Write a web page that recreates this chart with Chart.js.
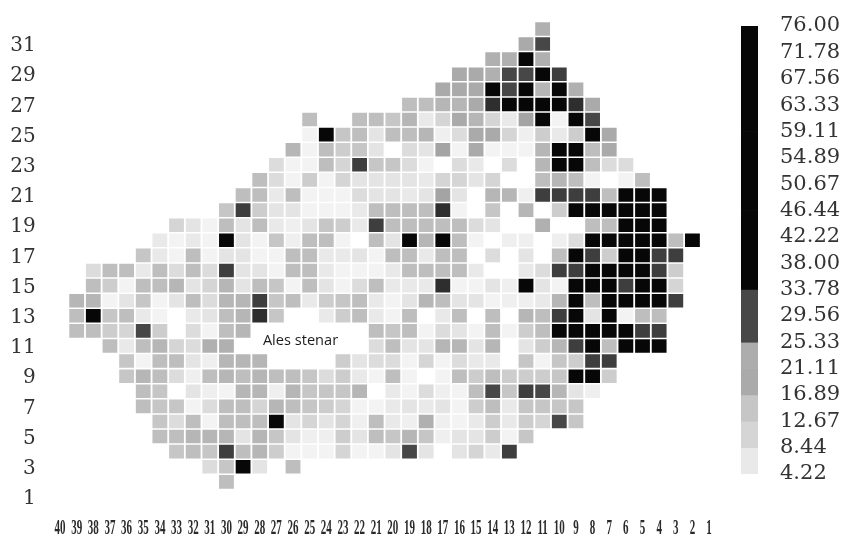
<!DOCTYPE html>
<html>
<head>
<meta charset="utf-8">
<script src="https://cdn.jsdelivr.net/npm/chart.js@4"></script>
<style>
html,body{margin:0;padding:0;background:#fff;}
canvas{position:absolute;top:0;}
#map{left:0;}
#bar{left:730px;}
</style>
</head>
<body>
<canvas id="map" width="848" height="538"></canvas>
<canvas id="bar" width="118" height="538"></canvas>
<script>
// column labels, left to right
const columnLabels = [40,39,38,37,36,35,34,33,32,31,30,29,28,27,26,25,24,23,22,21,20,19,18,17,16,15,14,13,12,11,10,9,8,7,6,5,4,3,2,1];
const rowTickLabels = [1,3,5,7,9,11,13,15,17,19,21,23,25,27,29,31];
const legendLevels = [76.00,71.78,67.56,63.33,59.11,54.89,50.67,46.44,42.22,38.00,33.78,29.56,25.33,21.11,16.89,12.67,8.44,4.22];

// each row: first column number, then readings going right; 0 = empty cell
const row32 = [11, 16];
const row31 = [12, 17,30];
const row30 = [14, 16,16,45,16];
const row29 = [16, 18,17,16,30,30,45,32];
const row28 = [17, 17,17,17,40,30,45,15,42,16];
const row27 = [19, 14,14,15,15,17,33,45,34,45,45,33,18];
const row26 = [25, 14,0,0,14,14,13,15,5,10,17,15,10,5,20,45,3,45,30];
const row25 = [25, 3,45,13,14,6,14,14,15,4,8,17,17,10,4,12,5,12,45,18];
const row24 = [26, 15,3,14,12,13,6,0,8,6,20,3,18,3,3,3,15,45,45,14,18];
const row23 = [27, 8,3,3,14,10,32,13,13,8,3,0,8,5,0,8,0,15,38,38,14,8,8];
const row22 = [28, 14,8,3,12,3,10,6,6,6,6,5,10,10,6,10,0,0,14,15,14,3,0,3,14];
const row21 = [29, 14,14,5,14,3,3,3,8,6,6,5,6,20,6,0,15,15,4,32,32,32,32,14,45,45,45];
const row20 = [30, 13,32,12,6,6,3,3,3,5,14,14,14,14,33,3,0,13,0,15,0,12,45,45,45,45,34,45];
const row19 = [33, 10,6,3,14,6,14,5,4,6,13,12,5,32,14,14,14,14,14,8,6,0,0,16,0,0,14,14,45,45,45];
const row18 = [34, 5,3,5,3,45,6,3,13,4,14,14,3,0,14,6,45,15,45,14,3,0,4,4,0,4,8,45,45,45,45,45,14,45];
const row17 = [35, 13,5,3,14,3,6,6,3,3,14,14,5,5,6,3,14,14,5,14,14,0,8,0,6,0,14,45,32,12,45,45,32,32];
const row16 = [38, 7,14,14,5,14,7,14,8,32,6,6,3,14,14,5,3,3,3,5,14,14,14,14,5,0,0,5,8,32,32,45,45,45,45,32,12];
const row15 = [38, 14,12,3,14,14,15,6,10,15,6,14,13,3,14,6,3,8,14,5,5,5,33,3,3,6,4,45,6,3,45,45,45,32,45,45,10];
const row14 = [39, 15,15,3,6,13,3,6,14,8,15,15,32,13,14,5,12,13,14,5,3,6,15,14,6,6,3,4,4,5,15,45,14,45,45,45,45,32];
const row13 = [39, 14,45,13,14,5,3,0,5,6,14,15,33,13,0,0,5,12,14,5,3,14,0,5,14,0,14,0,15,14,32,45,6,45,3,14,14];
const row12 = [39, 14,14,12,10,30,12,0,8,3,14,15,0,0,0,0,0,0,0,14,13,14,3,8,6,3,14,3,12,14,45,45,45,45,45,32,32];
const row11 = [37, 14,5,14,15,10,8,16,16,0,0,0,0,0,0,0,0,8,14,6,6,15,15,6,15,0,6,12,15,32,45,14,45,45,45];
const row10 = [36, 13,3,14,14,6,4,15,15,15,0,0,0,0,12,6,8,8,3,10,3,8,5,5,0,13,3,13,12,32,32];
const row9  = [36, 13,15,14,8,4,14,15,14,15,14,14,13,8,12,5,3,14,3,0,3,14,12,14,12,12,12,13,45,45,12];
const row8  = [35, 14,13,0,6,4,3,15,15,4,15,13,13,13,15,0,5,3,8,4,3,14,30,13,32,30,15,6,4];
const row7  = [35, 14,13,13,3,8,14,14,10,15,14,13,12,10,3,3,5,6,5,6,3,12,14,5,13,13,13,13];
const row6  = [34, 13,8,14,3,14,14,14,45,6,10,6,10,4,14,5,4,16,4,3,5,12,5,12,10,30,13];
const row5  = [34, 14,14,15,15,15,6,15,13,6,4,4,12,6,14,13,15,13,4,6,6,12,3,13];
const row4  = [33, 13,14,13,31,14,15,12,3,3,3,10,3,3,6,30,6,0,6,10,5,32];
const row3  = [31, 8,13,45,6,0,14];
const row2  = [30, 14];

const rowsByNumber = {32:row32,31:row31,30:row30,29:row29,28:row28,27:row27,26:row26,25:row25,24:row24,23:row23,22:row22,21:row21,20:row20,19:row19,18:row18,17:row17,16:row16,15:row15,14:row14,13:row13,12:row12,11:row11,10:row10,9:row9,8:row8,7:row7,6:row6,5:row5,4:row4,3:row3,2:row2};

const grayStops = [[3,'#f3f3f3'],[4,'#efefef'],[5,'#e9e9e9'],[6,'#e4e4e4'],[8,'#dcdcdc'],[10,'#d5d5d5'],[12,'#cdcdcd'],[13,'#c6c6c6'],[14,'#bebebe'],[15,'#b6b6b6'],[16,'#b0b0b0'],[18,'#aaaaaa'],[20,'#a4a4a4'],[25,'#adadad'],[30,'#474747'],[32,'#3e3e3e'],[33,'#2e2e2e'],[99,'#070707']];
function grayFor(v){ for(const s of grayStops){ if(v<=s[0]) return s[1]; } return '#000'; }

const cellHalf = 0.45;
const datasets = Object.keys(rowsByNumber).map(k=>{
  const r = +k, src = rowsByNumber[k];
  const data = columnLabels.map(()=>null), colors = columnLabels.map(()=>'#fff');
  src.slice(1).forEach((v,i)=>{
    const idx = columnLabels.indexOf(src[0]-i);
    if(v>0 && idx>=0){ data[idx]=[r-cellHalf,r+cellHalf]; colors[idx]=grayFor(v); }
  });
  return {label:'row '+r,data,backgroundColor:colors,borderWidth:0,grouped:false,barPercentage:0.89,categoryPercentage:1};
});

const siteLabel = {text:'Ales stenar', column:25.55, row:11.35};
const sitePlugin = {id:'site',afterDatasetsDraw(c){
  const x=c.scales.x.getPixelForValue(columnLabels.indexOf(40)+(40-siteLabel.column));
  const y=c.scales.y.getPixelForValue(siteLabel.row);
  const g=c.ctx; g.save(); g.font='14.6px "Open Sans"'; g.fillStyle='#1c1c1c'; g.textAlign='center'; g.textBaseline='middle';
  g.fillText(siteLabel.text,x,y); g.restore();
}};

// condensed tick labels on the column axis
function condenseLabels(s){
  s.drawLabels = function(){
    const g=this.ctx;
    this.ticks.forEach((t,i)=>{
      g.save();
      g.translate(this.getPixelForTick(i),529);
      g.scale(0.55,1);
      g.font='bold 20px "Liberation Serif"';
      g.fillStyle='#2a2a2a'; g.textAlign='center'; g.textBaseline='middle';
      g.fillText(String(t.label),0,0);
      g.restore();
    });
  };
}

new Chart(document.getElementById('map'),{
  type:'bar',
  data:{labels:columnLabels,datasets},
  plugins:[sitePlugin],
  options:{
    responsive:false,animation:false,
    layout:{padding:{top:21.4,right:130.6,left:0,bottom:0}},
    plugins:{legend:{display:false},tooltip:{enabled:false}},
    scales:{
      x:{type:'category',grid:{display:false,drawTicks:false},border:{display:false},
        afterFit(s){s.height=33.5;},
        afterUpdate:condenseLabels,
        ticks:{autoSkip:false,maxRotation:0,minRotation:0,padding:14,color:'#333',font:{family:'"Liberation Serif"',size:13,weight:'bold'}}},
      y:{type:'linear',min:0.5,max:32.5,grid:{display:false,drawTicks:false},border:{display:false},
        afterBuildTicks(s){s.ticks=rowTickLabels.map(v=>({value:v}));},
        afterFit(s){s.width=51.7;s.paddingTop=0;s.paddingBottom=0;},
        ticks:{autoSkip:false,padding:16,labelOffset:2,color:'#333',font:{family:'"DejaVu Serif"',size:20}}}
    }
  }
});

const legendCategory = ['scale'];
const legendSets = legendLevels.slice(0,-1).map((hi,i)=>{
  const lo = legendLevels[i+1];
  return {label:hi+'',data:[[lo,hi]],backgroundColor:grayFor(lo),borderWidth:0,grouped:false,barPercentage:1,categoryPercentage:1};
});
new Chart(document.getElementById('bar'),{
  type:'bar',
  data:{labels:legendCategory,datasets:legendSets},
  options:{
    responsive:false,animation:false,
    layout:{padding:{top:26,bottom:64,left:11,right:0}},
    plugins:{legend:{display:false},tooltip:{enabled:false}},
    scales:{
      x:{display:false},
      y:{type:'linear',position:'right',min:4.22,max:76,grid:{display:false,drawTicks:false},border:{display:false},
        afterBuildTicks(s){s.ticks=legendLevels.map(v=>({value:v}));},
        afterFit(s){s.width=90;s.paddingTop=0;s.paddingBottom=0;},
        ticks:{autoSkip:false,padding:22,color:'#333',font:{family:'"DejaVu Serif"',size:21},callback:v=>v.toFixed(2)}}
    }
  }
});
</script>
</body>
</html>
